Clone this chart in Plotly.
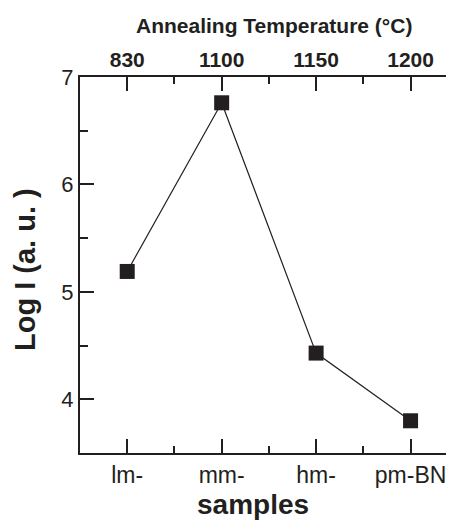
import plotly.graph_objects as go

samples = ["lm-", "mm-", "hm-", "pm-BN"]
temperatures = ["830", "1100", "1150", "1200"]
log_i = [5.19, 6.76, 4.43, 3.80]
y_ticks = [4, 5, 6, 7]

xpos = list(range(1, len(samples) + 1))
ink = "#231f20"
FONT = "Liberation Sans, Arial, Helvetica, sans-serif"

fig = go.Figure()
fig.add_trace(go.Scatter(
    x=xpos, y=log_i, mode="lines+markers",
    line=dict(color=ink, width=1.2),
    marker=dict(symbol="square", size=15, color=ink),
    showlegend=False, hoverinfo="skip"))
# invisible trace to activate the top axis
fig.add_trace(go.Scatter(
    x=xpos, y=log_i, xaxis="x2", mode="markers",
    marker=dict(opacity=0), showlegend=False, hoverinfo="skip"))

# page body adds an 8px margin; compensate so the plot lands where the reference has it
PAD = 8
xr = [0.5, 4.46]
fig.update_layout(
    width=454 - PAD, height=520 - PAD,
    margin=dict(l=80 - PAD, r=0, t=77 - PAD, b=67, autoexpand=False),
    paper_bgcolor="white", plot_bgcolor="white",
    font=dict(family=FONT, color=ink),
    xaxis=dict(
        range=xr, tickvals=xpos, ticktext=samples,
        showgrid=False, zeroline=False,
        showline=True, linewidth=2, linecolor=ink,
        ticks="inside", ticklen=14, tickwidth=2, tickcolor=ink,
        tickfont=dict(size=23, color=ink),
        minor=dict(tickvals=[1.5, 2.5, 3.5], ticks="inside", ticklen=7, tickwidth=2, tickcolor=ink),
    ),
    xaxis2=dict(
        overlaying="x", side="top", anchor="y",
        range=xr, tickvals=xpos, ticktext=temperatures,
        showgrid=False, zeroline=False,
        showline=True, linewidth=2, linecolor=ink,
        ticks="inside", ticklen=14, tickwidth=2, tickcolor=ink,
        tickfont=dict(size=21, color=ink, weight="bold"),
        minor=dict(tickvals=[1.5, 2.5, 3.5], ticks="inside", ticklen=7, tickwidth=2, tickcolor=ink),
    ),
    yaxis=dict(
        range=[3.5, 7], tickvals=y_ticks,
        showgrid=False, zeroline=False,
        showline=True, linewidth=2, linecolor=ink,
        ticks="inside", ticklen=14, tickwidth=2, tickcolor=ink,
        tickfont=dict(size=22, color=ink),
        minor=dict(dtick=0.5, ticks="inside", ticklen=8, tickwidth=2, tickcolor=ink),
    ),
    annotations=[
        dict(text="<b>samples</b>", xref="paper", yref="paper",
             x=(253 - 80) / 374, y=-(504 - 453) / 376, xanchor="center", yanchor="middle",
             showarrow=False, font=dict(size=28, color=ink)),
        dict(text="<b>Annealing Temperature (°C)</b>", xref="paper", yref="paper",
             x=(274 - 80) / 374, y=1 + (77 - 26) / 376, xanchor="center", yanchor="middle",
             showarrow=False, font=dict(size=21, color=ink)),
        dict(text="<b>Log I (a. u. )</b>", xref="paper", yref="paper",
             x=-(80 - 25) / 374, y=(453 - 270) / 376, xanchor="center", yanchor="middle",
             textangle=-90, showarrow=False, font=dict(size=29, color=ink)),
    ],
)

fig.write_html("out.html")
